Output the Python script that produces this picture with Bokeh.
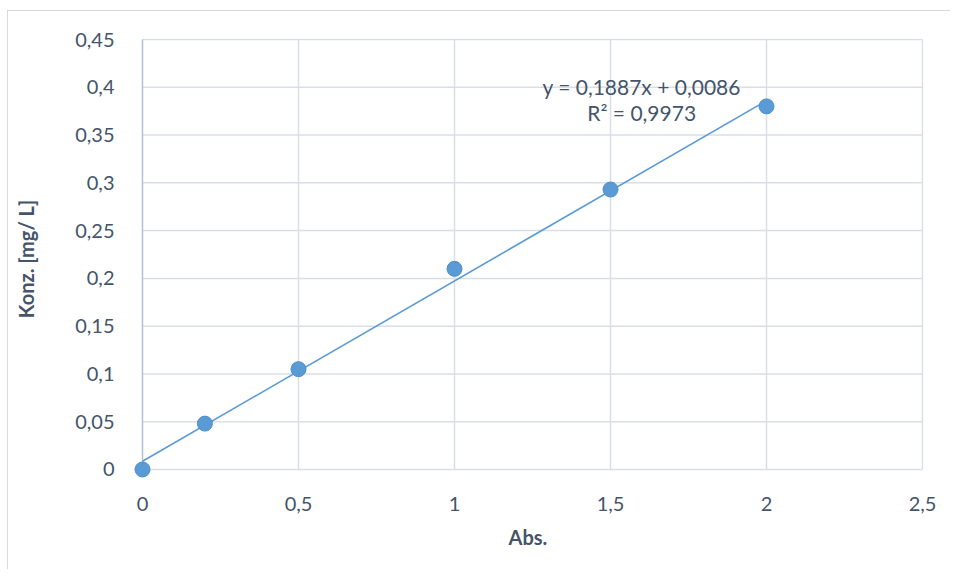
from bokeh.plotting import figure
from bokeh.models import FixedTicker, Label, Range1d
from bokeh.embed import file_html
from bokeh.resources import INLINE

# Calibration data
absorbance = [0, 0.2, 0.5, 1.0, 1.5, 2.0]
concentration = [0.0, 0.048, 0.105, 0.210, 0.293, 0.380]

# Linear trendline (as stated in the equation label)
slope = 0.1887
intercept = 0.0086
r_squared = 0.9973

x_ticks = [0, 0.5, 1, 1.5, 2, 2.5]
x_tick_labels = ["0", "0,5", "1", "1,5", "2", "2,5"]
y_ticks = [0, 0.05, 0.1, 0.15, 0.2, 0.25, 0.3, 0.35, 0.4, 0.45]
y_tick_labels = ["0", "0,05", "0,1", "0,15", "0,2", "0,25", "0,3", "0,35", "0,4", "0,45"]

FONT = "Lato"
TEXT = "#44546A"
GRID = "#D9DEE7"
AXIS = "#B4C0D4"
BLUE = "#5B9BD5"

# A little room around the zero corner so the marker at the origin is not cut off
PAD = 10  # px
X_PX = 312.0   # px per 1.0 absorbance
Y_PX = 954.0   # px per 1.0 mg/L
x_lo, x_hi = -PAD / X_PX, 2.5 + 1 / X_PX
y_lo, y_hi = -PAD / Y_PX, 0.45 + 1 / Y_PX

p = figure(
    width=950, height=570,
    frame_width=780 + PAD + 1, frame_height=430 + PAD + 1,
    x_range=Range1d(x_lo, x_hi), y_range=Range1d(y_lo, y_hi),
    output_backend="svg", toolbar_location=None,
    min_border_left=124, min_border_top=27, min_border_right=27, min_border_bottom=90,
    background_fill_color="white", border_fill_color="white",
)
p.margin = (10, 0, 0, 7)
p.styles = {"border-left": "1.5px solid #D9D9D9", "border-top": "1.5px solid #D9D9D9"}
p.outline_line_color = None
p.grid.visible = False

for ax in (p.xaxis, p.yaxis):
    ax.major_tick_line_color = None
    ax.minor_tick_line_color = None
    ax.axis_line_color = None
    ax.major_label_text_font = FONT
    ax.major_label_text_font_size = "20px"
    ax.major_label_text_color = TEXT
    ax.axis_label_text_font = FONT
    ax.axis_label_text_font_size = "20px"
    ax.axis_label_text_font_style = "bold"
    ax.axis_label_text_color = TEXT

p.xaxis.ticker = FixedTicker(ticks=x_ticks)
p.xaxis.major_label_overrides = dict(zip(x_ticks, x_tick_labels))
p.yaxis.ticker = FixedTicker(ticks=y_ticks)
p.yaxis.major_label_overrides = dict(zip(y_ticks, y_tick_labels))
p.xaxis.axis_label = "Abs."
p.yaxis.axis_label = "Konz. [mg/ L]"
p.xaxis.major_label_standoff = 11
p.yaxis.major_label_standoff = 12
p.xaxis.axis_label_standoff = 11
p.yaxis.axis_label_standoff = 34

# Gridlines, drawn across the 0..2.5 x 0..0.45 area only
p.segment(x0=[0] * len(y_ticks), x1=[2.5] * len(y_ticks), y0=y_ticks, y1=y_ticks,
          line_color=GRID, line_width=1.5)
p.segment(x0=x_ticks[1:], x1=x_ticks[1:], y0=[0] * (len(x_ticks) - 1), y1=[0.45] * (len(x_ticks) - 1),
          line_color=GRID, line_width=1.5)
# Value axis line
p.segment(x0=[0], x1=[0], y0=[0], y1=[0.45], line_color=AXIS, line_width=1.5)

# Trendline from the fitted equation
x_fit = [min(absorbance), max(absorbance)]
y_fit = [slope * x + intercept for x in x_fit]
p.line(x_fit, y_fit, line_color=BLUE, line_width=1.6)

p.scatter(absorbance, concentration, size=15, fill_color=BLUE, line_color="#4E8ECB", line_width=1)

eq_x, eq_y, eq_gap = 1.6, 0.4004, 0.0272
fmt = lambda v: f"{v:.4f}".replace(".", ",")
p.add_layout(Label(x=eq_x, y=eq_y, text=f"y = {fmt(slope)}x + {fmt(intercept)}",
                   text_align="center", text_baseline="middle",
                   text_font=FONT, text_font_size="21px", text_color=TEXT))
p.add_layout(Label(x=eq_x, y=eq_y - eq_gap, text=f"R² = {fmt(r_squared)}",
                   text_align="center", text_baseline="middle",
                   text_font=FONT, text_font_size="21px", text_color=TEXT))

open("out.html", "w").write(file_html(p, INLINE))
